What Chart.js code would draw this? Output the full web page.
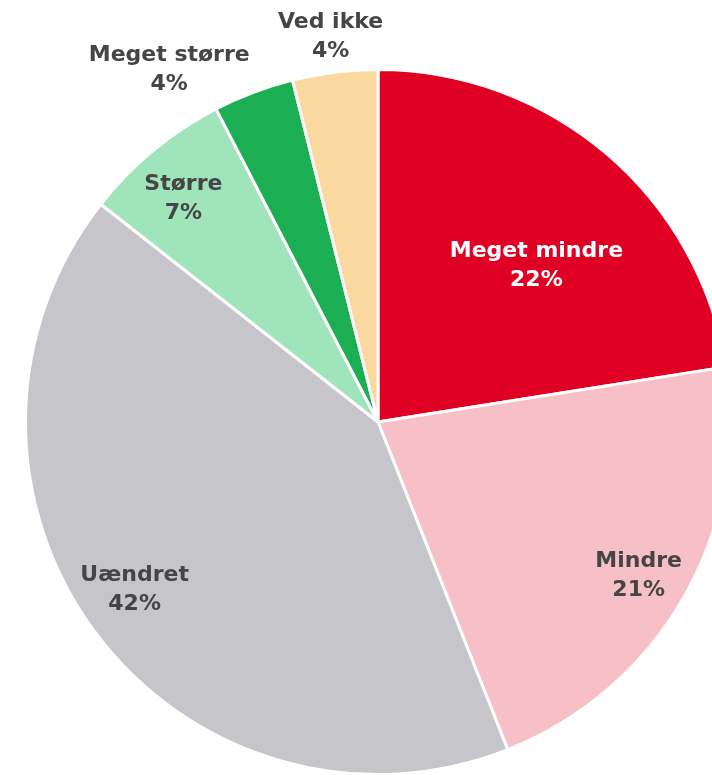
<!DOCTYPE html>
<html>
<head>
<meta charset="utf-8">
<script src="https://cdn.jsdelivr.net/npm/chart.js@4/dist/chart.umd.min.js"></script>
<style>
  html, body { margin: 0; padding: 0; background: #fff; overflow: hidden; }
  #wrap { position: absolute; left: 0; top: 0; width: 756px; height: 844px; }
</style>
</head>
<body>
<div id="wrap"><canvas id="pieChart"></canvas></div>
<script>
const categories = ["Meget mindre", "Mindre", "Uændret", "Større", "Meget større", "Ved ikke"];
const shares = [22.5, 21.5, 41.6, 6.8, 3.7, 3.9];
const shareLabels = ["22%", "21%", "42%", "7%", "4%", "4%"];

const sliceColors = ["#df0023", "#f6c0c6", "#c5c5ca", "#a0e4bb", "#1bae52", "#fad9a1"];
// label placement: radius factor and angle shift (deg) per slice
const labelStyle = [
  { r: 0.63, shift: 5, color: "#ffffff" },
  { r: 0.86, shift: 1, color: "#454545" },
  { r: 0.84, shift: 2, color: "#454545" },
  { r: 0.84, shift: -1.5, color: "#454545" },
  { r: 1.16, shift: -10, color: "#454545" },
  { r: 1.10, shift: 0, color: "#454545" },
];

const sliceLabels = {
  id: "sliceLabels",
  afterDatasetsDraw(chart) {
    const ctx = chart.ctx;
    const arcs = chart.getDatasetMeta(0).data;
    ctx.save();
    ctx.textAlign = "center";
    ctx.textBaseline = "middle";
    ctx.font = "bold 22px 'DejaVu Sans'";
    arcs.forEach((arc, i) => {
      const p = arc.getProps(["x", "y", "startAngle", "endAngle", "outerRadius"], true);
      const a = (p.startAngle + p.endAngle) / 2 + labelStyle[i].shift * Math.PI / 180;
      const rr = p.outerRadius * labelStyle[i].r;
      const cx = p.x + Math.cos(a) * rr;
      const cy = p.y + Math.sin(a) * rr;
      ctx.fillStyle = labelStyle[i].color;
      ctx.fillText(categories[i], cx, cy - 15);
      ctx.fillText(shareLabels[i], cx, cy + 14);
    });
    ctx.restore();
  },
};

new Chart(document.getElementById("pieChart"), {
  type: "pie",
  data: {
    labels: categories,
    datasets: [
      {
        data: shares,
        backgroundColor: sliceColors,
        borderColor: "#ffffff",
        borderWidth: 3,
      },
    ],
  },
  options: {
    responsive: true,
    maintainAspectRatio: false,
    animation: false,
    layout: { padding: 24 },
    plugins: {
      legend: { display: false },
      tooltip: { enabled: false },
    },
  },
  plugins: [sliceLabels],
});
</script>
</body>
</html>
